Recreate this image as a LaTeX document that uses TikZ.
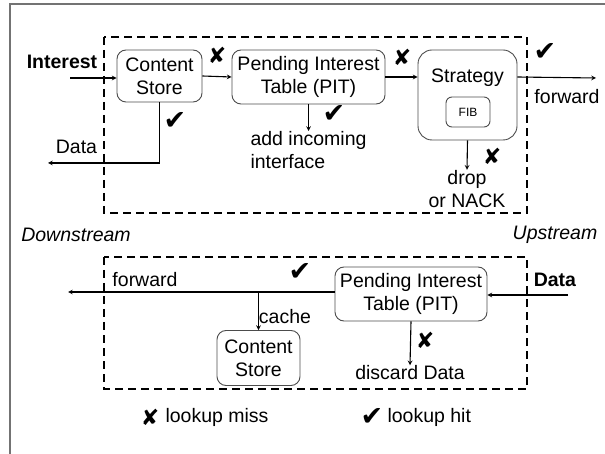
\documentclass[tikz,border=0pt]{standalone}
\usepackage{fontspec}
\setmainfont{Liberation Sans}
\newfontfamily\symfont{DejaVu Sans}
\newcommand{\txtsize}{\fontsize{19.5}{23}\selectfont}
\begin{document}
\begin{tikzpicture}[x=1pt, y=-1pt, >=stealth, line width=1.1pt,
    box node/.style={draw=black!70, line width=0.9pt, rounded corners=9pt, align=center, inner sep=0pt, font=\txtsize},
    text node/.style={inner sep=0pt, font=\txtsize},
    stage/.style={draw, line width=1.6pt, dash pattern=on 8pt off 5pt},
    hit/.style={inner sep=0pt, font=\symfont\fontsize{27}{27}\selectfont},
    miss/.style={inner sep=0pt, font=\symfont\fontsize{22}{22}\selectfont}]

  \useasboundingbox (0,0) rectangle (605,454);
  \draw[black!55, line width=1.5pt] (10,454) -- (10,4) -- (605,4);

  % Interest path
  \draw[stage] (104,37) rectangle (527,213);

  \node[box node, minimum width=85pt, minimum height=52pt] (cs) at (159.5,76) {Content\\Store};
  \node[box node, minimum width=153pt, minimum height=54pt] (pit) at (308.5,77) {Pending Interest\\Table (PIT)};
  \node[box node, minimum width=99pt, minimum height=90pt, rounded corners=14pt] (strat) at (467.5,95) {};
  \node[text node] (stratname) at (467.5,78) {Strategy};
  \node[box node, font=\fontsize{12}{14}\selectfont, minimum width=44pt, minimum height=30pt, rounded corners=6pt] (fib) at (468,112) {FIB};

  \node[text node] (interest) at (62,62) {\textbf{Interest}};
  \coordinate (intin) at (70,78);
  \node[text node] (dataout) at (76.5,147) {Data};
  \coordinate (datatip) at (48,163);
  \node[text node, anchor=north west, align=left] (addif) at (250,131) {add incoming\\interface};
  \node[text node, align=center] (drop) at (467,189) {drop\\or NACK};
  \coordinate (fwdtip) at (596,78);
  \node[text node] (fwd) at (567,97) {forward};

  \node[miss] (x1) at (217,55) {✘};
  \node[miss] (x2) at (402,57) {✘};
  \node[miss] (x3) at (492,156) {✘};
  \node[hit] (c1) at (545,52) {✔};
  \node[hit] (c2) at (175,121) {✔};
  \node[hit] (c3) at (334,114) {✔};

  \draw[->] (intin) -- (intin -| cs.west);
  \draw[->] (cs.east) -- (pit.west);
  \draw[->] (pit.east) -- (pit.east -| strat.west);
  \draw[->] (pit.east -| strat.east) -- (fwdtip);
  \draw[->] (cs.south) -- (cs.south |- datatip) -- (datatip);
  \draw[->] (pit.south) -- (pit.south |- addif.north);
  \draw[->] (strat.south) -- (drop.north);

  \node[text node] (down) at (76,235) {\itshape Downstream};
  \node[text node] (up) at (555,235) {\itshape Upstream};

  % Data path
  \draw[stage] (104,257) rectangle (527,389);

  \node[box node, minimum width=152pt, minimum height=54pt] (pit2) at (411,294) {Pending Interest\\Table (PIT)};
  \node[box node, minimum width=83pt, minimum height=55pt] (cs2) at (258.5,358) {Content\\Store};

  \node[text node] (datain) at (555,280) {\textbf{Data}};
  \coordinate (datasrc) at (568,295);
  \coordinate (fwdtip2) at (68,292);
  \node[text node] (fwd2) at (145,280) {forward};
  \node[text node] (cache) at (285,317) {cache};
  \node[text node] (discard) at (410,373) {discard Data};

  \node[hit] (c4) at (300,272) {✔};
  \node[miss] (x4) at (425,340) {✘};

  \draw[->] (datasrc) -- (datasrc -| pit2.east);
  \draw[->] (pit2.west |- fwdtip2) -- (fwdtip2);
  \draw[->] (cs2.north |- fwdtip2) -- (cs2.north);
  \draw[->] (pit2.south) -- (discard.north);

  % legend
  \node[miss] (xkey) at (150,417) {✘};
  \node[text node, anchor=west] (misskey) at (165,417) {lookup miss};
  \node[hit] (ckey) at (372,417) {✔};
  \node[text node, anchor=west] (hitkey) at (387,417) {lookup hit};
\end{tikzpicture}
\end{document}
